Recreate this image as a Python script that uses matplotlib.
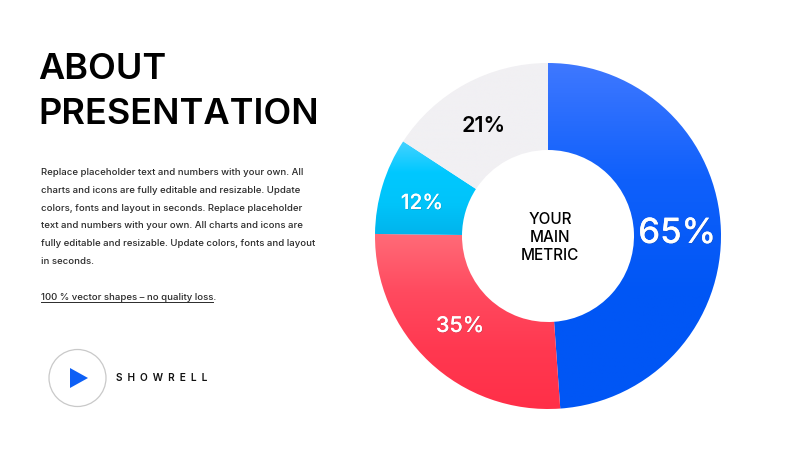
#---------------- donut slide "About presentation" ----------------
import numpy as np
import matplotlib
matplotlib.use('Agg')
from matplotlib import pyplot as plt
from matplotlib.colors import LinearSegmentedColormap
from matplotlib.patches import Circle, Polygon
import matplotlib.patheffects as pe

labels_val = [65, 35, 12, 21]
slice_colors = [
    ['#3f78ff', '#0f60fb', '#0056f5', '#0056f5'],
    ['#ff6b78', '#ff4a5f', '#ff3850', '#ff2f48'],
    ['#45d2ff', '#00c8ff', '#00c4fa', '#00b4ec'],
    ['#f1f0f3', '#f1f0f3'],
]
label_colors = ['white', 'white', 'white', 'black']
label_weights = ['medium', 'medium', 'medium', 'semibold']
label_pos = [(677, 234), (460, 326), (422, 203), (484, 126)]
label_size = [25, 15.5, 15, 15.5]

title_lines = ['ABOUT', 'PRESENTATION']
body_lines = [
    'Replace placeholder text and numbers with your own. All',
    'charts and icons are fully editable and resizable. Update',
    'colors, fonts and layout in seconds. Replace placeholder',
    'text and numbers with your own. All charts and icons are',
    'fully editable and resizable. Update colors, fonts and layout',
    'in seconds.',
]
note_text = '100 % vector shapes – no quality loss.'
center_lines = 'YOUR\nMAIN\nMETRIC'
brand = 'S  H  O  W  R  E  L  L'

plt.rcParams['font.family'] = ['Inter', 'DejaVu Sans']

fig = plt.figure(figsize=(8, 4.5), dpi=100)
ax = fig.add_axes([0, 0, 1, 1])


def Y(y):
    # picture coordinates go from the top
    return 450 - y


#-------------------- donut ---------------------
wedges, _ = ax.pie(labels_val, center=(548, Y(236)), radius=173, startangle=90,
                   counterclock=False, wedgeprops={'width': 87, 'linewidth': 0})

for w, cols in zip(wedges, slice_colors):
    box = w.get_path().get_extents(w.get_patch_transform())
    cmap = LinearSegmentedColormap.from_list('g', cols)
    grad = np.linspace(0, 1, 256).reshape(-1, 1)
    im = ax.imshow(grad, cmap=cmap, aspect='auto', origin='upper', zorder=2,
                   extent=(box.x0, box.x1, box.y0, box.y1))
    im.set_clip_path(w)
    w.set_visible(False)

ax.set_xlim(0, 800)
ax.set_ylim(0, 450)
ax.set_aspect('auto')
ax.axis('off')

for i, val in enumerate(labels_val):
    x, y = label_pos[i]
    t = ax.text(x, Y(y), f'{val}%', color=label_colors[i], fontsize=label_size[i],
                fontweight=label_weights[i], ha='center', va='center', zorder=4)
    if label_colors[i] == 'white':
        t.set_path_effects([pe.withSimplePatchShadow(offset=(0.5, -0.5), alpha=0.25), pe.Normal()])

ax.text(550, Y(238), center_lines, fontsize=11, fontweight='medium', color='black',
        ha='center', va='center', linespacing=1.25, zorder=4)

#-------------------- left side ---------------------
for line, y in zip(title_lines, [79, 124]):
    ax.text(38, Y(y), line, fontsize=26, fontweight='semibold', color='black', va='baseline', ha='left')

for i, line in enumerate(body_lines):
    ax.text(41, Y(172.5 + i * 17.8), line, fontsize=6.9, fontweight='medium', color='#2a2a2a', va='center', ha='left')

ax.text(41, Y(297.5), note_text, fontsize=6.9, fontweight='medium', color='#2a2a2a', va='center', ha='left')
ax.plot([41, 213], [Y(302), Y(302)], color='#2a2a2a', lw=0.7)

#-------------------- logo ---------------------
ax.add_patch(Circle((77.5, Y(378)), 28.5, fc='white', ec='#c9c9c9', lw=0.9))
ax.add_patch(Polygon([(70, Y(368)), (70, Y(388)), (88, Y(378))], closed=True, fc='#0d5ff5', ec='none'))
ax.text(116, Y(378), brand, fontsize=7.3, fontweight='semibold', color='#111111', va='center', ha='left')

fig.savefig('out.png', dpi=100)
